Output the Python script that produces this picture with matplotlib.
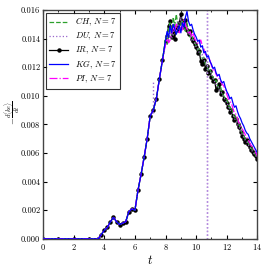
import matplotlib
matplotlib.use("Agg")
import matplotlib.pyplot as plt
from matplotlib.ticker import MultipleLocator, FormatStrFormatter

plt.rcParams['font.family'] = 'serif'
plt.rcParams['font.serif'] = ['cmr10', 'DejaVu Serif']
plt.rcParams['mathtext.fontset'] = 'cm'
plt.rcParams['axes.formatter.use_mathtext'] = True

# time samples
t_zero = [0.0, 1.0, 2.0, 3.0, 3.6]
t_rise = [3.8, 4.0, 4.2, 4.4, 4.6, 4.8, 5.0, 5.2, 5.4, 5.6, 5.8,
          6.0, 6.2, 6.4, 6.6, 6.8, 7.0, 7.2, 7.4, 7.6, 7.8]
t_late = [8.0, 8.1, 8.2, 8.3, 8.4, 8.5, 8.6, 8.7, 8.8, 8.9,
          9.0, 9.1, 9.2, 9.3, 9.4, 9.5, 9.6, 9.7, 9.8, 9.9,
          10.0, 10.1, 10.2, 10.3, 10.4, 10.5, 10.6, 10.7, 10.8, 10.9,
          11.0, 11.1, 11.2, 11.3, 11.4, 11.5, 11.6, 11.7, 11.8, 11.9,
          12.0, 12.1, 12.2, 12.3, 12.4, 12.5, 12.6, 12.7, 12.8, 12.9,
          13.0, 13.1, 13.2, 13.3, 13.4, 13.5, 13.6, 13.7, 13.8, 13.9, 14.0]

# rising part (3.8 .. 7.8), common to all runs
early = [0.0003, 0.0006, 0.0008, 0.0012, 0.0015, 0.0012, 0.0010, 0.0011, 0.0012, 0.0019, 0.0021,
         0.0020, 0.0034, 0.0045, 0.0057, 0.0070, 0.0086, 0.0090, 0.0098, 0.0112, 0.0125]

# 8.0 .. 14.0
ch_late = [0.0141, 0.0136, 0.0147, 0.0151, 0.0143, 0.0155, 0.0149, 0.0157, 0.0150, 0.0146,
           0.0150, 0.0153, 0.0147, 0.0145, 0.0151, 0.0144, 0.0141, 0.0143, 0.0139, 0.0137,
           0.0135, 0.0132, 0.0133, 0.0128, 0.0126, 0.0127, 0.0122, 0.0121, 0.0118, 0.0119,
           0.0115, 0.0113, 0.0110, 0.0111, 0.0107, 0.0105, 0.0106, 0.0102, 0.0100, 0.0098,
           0.0097, 0.0094, 0.0091, 0.0092, 0.0088, 0.0085, 0.0086, 0.0082, 0.0080, 0.0077,
           0.0074, 0.0072, 0.0070, 0.0069, 0.0067, 0.0065, 0.0063, 0.0062, 0.0060, 0.0058, 0.0057]
du_late = [0.0137, 0.0141, 0.0139, 0.0146, 0.0140, 0.0143, 0.0148, 0.0145, 0.0152, 0.0149,
           0.0155, 0.0150, 0.0146, 0.0149, 0.0147, 0.0144, 0.0142, 0.0139, 0.0140, 0.0137,
           0.0134, 0.0133, 0.0130, 0.0128, 0.0129, 0.0125, 0.0123, 0.0121, 0.0119, 0.0118,
           0.0115, 0.0112, 0.0110, 0.0108, 0.0107, 0.0105, 0.0103, 0.0101, 0.0099, 0.0097,
           0.0095, 0.0093, 0.0090, 0.0089, 0.0087, 0.0084, 0.0083, 0.0080, 0.0078, 0.0076,
           0.0073, 0.0071, 0.0069, 0.0068, 0.0066, 0.0064, 0.0062, 0.0061, 0.0059, 0.0058, 0.0057]
ir_late = [0.0138, 0.0142, 0.0149, 0.0152, 0.0141, 0.0145, 0.0140, 0.0148, 0.0146, 0.0151,
           0.0157, 0.0152, 0.0148, 0.0153, 0.0146, 0.0143, 0.0145, 0.0140, 0.0138, 0.0136,
           0.0134, 0.0130, 0.0131, 0.0124, 0.0122, 0.0125, 0.0119, 0.0121, 0.0116, 0.0117,
           0.0113, 0.0110, 0.0111, 0.0104, 0.0106, 0.0108, 0.0101, 0.0103, 0.0098, 0.0097,
           0.0095, 0.0092, 0.0089, 0.0090, 0.0086, 0.0083, 0.0084, 0.0080, 0.0078, 0.0075,
           0.0072, 0.0070, 0.0068, 0.0069, 0.0066, 0.0064, 0.0062, 0.0061, 0.0059, 0.0058, 0.0056]
kg_late = [0.0139, 0.0145, 0.0141, 0.0149, 0.0144, 0.0150, 0.0147, 0.0143, 0.0146, 0.0149,
           0.0144, 0.0151, 0.0148, 0.0155, 0.0159, 0.0152, 0.0149, 0.0150, 0.0146, 0.0143,
           0.0141, 0.0138, 0.0139, 0.0134, 0.0135, 0.0130, 0.0131, 0.0127, 0.0128, 0.0124,
           0.0122, 0.0119, 0.0120, 0.0116, 0.0114, 0.0115, 0.0111, 0.0109, 0.0110, 0.0106,
           0.0103, 0.0101, 0.0098, 0.0099, 0.0095, 0.0092, 0.0093, 0.0089, 0.0086, 0.0084,
           0.0081, 0.0079, 0.0076, 0.0074, 0.0073, 0.0070, 0.0068, 0.0066, 0.0064, 0.0062, 0.0060]
pi_late = [0.0136, 0.0140, 0.0137, 0.0139, 0.0143, 0.0148, 0.0145, 0.0150, 0.0147, 0.0144,
           0.0149, 0.0146, 0.0153, 0.0150, 0.0147, 0.0143, 0.0145, 0.0141, 0.0144, 0.0140,
           0.0138, 0.0136, 0.0137, 0.0139, 0.0135, 0.0133, 0.0129, 0.0128, 0.0126, 0.0125,
           0.0121, 0.0118, 0.0119, 0.0115, 0.0113, 0.0112, 0.0110, 0.0108, 0.0107, 0.0104,
           0.0101, 0.0098, 0.0096, 0.0095, 0.0091, 0.0088, 0.0087, 0.0084, 0.0081, 0.0079,
           0.0077, 0.0075, 0.0073, 0.0071, 0.0069, 0.0067, 0.0065, 0.0064, 0.0062, 0.0060, 0.0058]

# spikes in the DU / PI runs: (t, ymin, ymax)
du_spikes = [(7.15, 0.0088, 0.0110), (10.68, 0.0, 0.0170)]
pi_spikes = [(10.72, 0.0, 0.0170)]

t_all = t_zero + t_rise + t_late
zeros = [0.0] * len(t_zero)

fig = plt.figure(figsize=(2.69, 2.69), dpi=100)
ax = fig.add_axes([0.16, 0.112, 0.797, 0.851])

ax.plot(t_all, zeros + early + ch_late, color='#2ca02c', ls='--', lw=0.9, label=r'$CH,\, N=7$', zorder=3)
ax.plot(t_all, zeros + early + du_late, color='#9966cc', ls=':', lw=0.9, label=r'$DU,\, N=7$', zorder=3)
ax.plot(t_all, zeros + early + ir_late, color='black', ls='-', lw=0.9, marker='o', ms=2.2,
        label=r'$IR,\, N=7$', zorder=2)
ax.plot(t_all, zeros + early + kg_late, color='blue', ls='-', lw=0.9, label=r'$KG,\, N=7$', zorder=4)
ax.plot(t_all, zeros + early + pi_late, color='magenta', ls='-.', lw=0.9, label=r'$PI,\, N=7$', zorder=3)

for t, y0, y1 in du_spikes:
    ax.vlines(t, y0, y1, color='#9966cc', ls=':', lw=1.0)
for t, y0, y1 in pi_spikes:
    ax.vlines(t, y0, y1, color='#b58be0', ls=':', lw=1.0)

ax.set_xlim(0, 14)
ax.set_ylim(0, 0.016)
ax.xaxis.set_major_locator(MultipleLocator(2))
ax.xaxis.set_minor_locator(MultipleLocator(1))
ax.yaxis.set_major_locator(MultipleLocator(0.002))
ax.yaxis.set_major_formatter(FormatStrFormatter('%.3f'))
ax.tick_params(which='both', direction='in', top=True, right=True, labelsize=6, pad=2)
ax.tick_params(which='major', length=3)
ax.tick_params(which='minor', length=1.5)
for s in ax.spines.values():
    s.set_color('#444444')
    s.set_linewidth(1.0)

ax.set_xlabel(r'$t$', fontsize=9, labelpad=2)
ax.set_ylabel(r'$-\frac{d\langle ke\rangle}{dt}$', fontsize=6.5)
ax.yaxis.set_label_coords(-0.10, 0.55)

leg = ax.legend(loc='upper left', fontsize=6.2, fancybox=False, edgecolor='black',
                handlelength=2.2, borderpad=0.4, labelspacing=0.28, borderaxespad=0.3)
leg.get_frame().set_linewidth(0.8)

fig.savefig('out.png', dpi=100)
